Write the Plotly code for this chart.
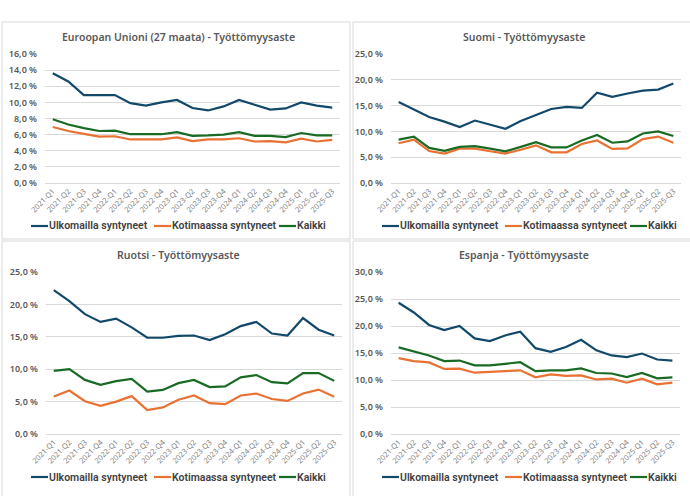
import plotly.graph_objects as go

W, H = 690, 496

quarters = ["2021-Q1", "2021-Q2", "2021-Q3", "2021-Q4", "2022-Q1", "2022-Q2", "2022-Q3", "2022-Q4",
            "2023-Q1", "2023-Q2", "2023-Q3", "2023-Q4", "2024-Q1", "2024-Q2", "2024-Q3", "2024-Q4",
            "2025-Q1", "2025-Q2", "2025-Q3"]
series_names = ["Ulkomailla syntyneet", "Kotimaassa syntyneet", "Kaikki"]
titles = ["Euroopan Unioni (27 maata) - Työttömyysaste", "Suomi - Työttömyysaste",
          "Ruotsi - Työttömyysaste", "Espanja - Työttömyysaste"]

eu_ulko = [13.6, 12.6, 10.9, 10.9, 10.9, 9.9, 9.6, 10.0, 10.3, 9.3, 9.0, 9.5, 10.3, 9.7, 9.1, 9.25, 10.0, 9.6, 9.35]
eu_koti = [6.95, 6.45, 6.1, 5.75, 5.8, 5.4, 5.4, 5.4, 5.65, 5.2, 5.4, 5.4, 5.55, 5.15, 5.2, 5.05, 5.5, 5.15, 5.35]
eu_kaikki = [7.9, 7.25, 6.8, 6.45, 6.5, 6.05, 6.05, 6.05, 6.3, 5.85, 5.9, 6.0, 6.3, 5.85, 5.85, 5.7, 6.2, 5.9, 5.9]

fi_ulko = [15.7, 14.3, 12.8, 11.9, 10.85, 12.1, 11.3, 10.5, 12.0, 13.25, 14.35, 14.75, 14.55, 17.5, 16.7, 17.35, 17.9, 18.1, 19.3]
fi_koti = [7.7, 8.4, 6.2, 5.7, 6.65, 6.65, 6.15, 5.7, 6.45, 7.3, 5.95, 5.95, 7.55, 8.25, 6.6, 6.7, 8.5, 9.0, 7.8]
fi_kaikki = [8.4, 9.0, 6.8, 6.25, 7.0, 7.15, 6.65, 6.15, 7.0, 7.9, 6.9, 6.9, 8.25, 9.3, 7.8, 8.05, 9.6, 10.0, 9.1]

se_ulko = [22.2, 20.5, 18.5, 17.3, 17.8, 16.45, 14.85, 14.85, 15.15, 15.2, 14.5, 15.4, 16.65, 17.3, 15.5, 15.2, 17.9, 16.1, 15.2]
se_koti = [5.8, 6.7, 5.05, 4.35, 5.0, 5.85, 3.7, 4.1, 5.3, 5.95, 4.75, 4.6, 5.95, 6.25, 5.4, 5.1, 6.25, 6.85, 5.75]
se_kaikki = [9.75, 10.0, 8.35, 7.6, 8.15, 8.5, 6.55, 6.8, 7.85, 8.35, 7.25, 7.35, 8.75, 9.1, 8.0, 7.8, 9.4, 9.4, 8.2]

es_ulko = [24.3, 22.5, 20.2, 19.25, 20.0, 17.7, 17.2, 18.25, 18.95, 15.9, 15.2, 16.1, 17.45, 15.5, 14.55, 14.25, 14.9, 13.8, 13.6]
es_koti = [14.05, 13.5, 13.25, 12.05, 12.1, 11.35, 11.5, 11.6, 11.8, 10.5, 11.05, 10.75, 10.85, 10.1, 10.25, 9.5, 10.25, 9.2, 9.5]
es_kaikki = [16.05, 15.3, 14.55, 13.5, 13.6, 12.7, 12.7, 13.0, 13.3, 11.65, 11.8, 11.8, 12.15, 11.3, 11.2, 10.55, 11.3, 10.3, 10.5]

y_max = [16, 25, 25, 30]
y_step = [2, 5, 5, 5]

colors = ["#12496A", "#E97132", "#196B24"]
panel_data = [
    [eu_ulko, eu_koti, eu_kaikki],
    [fi_ulko, fi_koti, fi_kaikki],
    [se_ulko, se_koti, se_kaikki],
    [es_ulko, es_koti, es_kaikki],
]

# layout geometry in pixels: (plot left, plot right, plot top, plot bottom)
plot_px = [(45, 340, 54, 183), (391, 681, 54, 183), (46, 342, 272, 434), (391, 680, 272, 434)]
panel_px = [(2, 350, 22, 239), (353, 692, 22, 239), (2, 350, 241, 500), (353, 692, 241, 500)]
title_y_px = [37, 37, 255, 255]
legend_y_px = [226, 226, 477, 477]


def fx(p):
    return p / W


def fy(p):
    return 1 - p / H


fig = go.Figure()
layout = dict(
    width=W, height=H, margin=dict(l=0, r=0, t=0, b=0, autoexpand=False),
    paper_bgcolor="white", plot_bgcolor="white",
    separators=", ", showlegend=False,
    font=dict(family="Noto Sans", color="#595959"),
)
shapes = []
annotations = []

for i in range(4):
    n = "" if i == 0 else str(i + 1)
    xl, xr, yt, yb = plot_px[i]
    for s in range(3):
        fig.add_trace(go.Scatter(
            x=quarters, y=panel_data[i][s], mode="lines", name=series_names[s],
            line=dict(color=colors[s], width=2.2),
            xaxis="x" + n, yaxis="y" + n,
        ))
    layout["xaxis" + n] = dict(
        domain=[fx(xl), fx(xr)], anchor="y" + n, type="category",
        range=[-0.5, len(quarters) - 0.5], showgrid=False,
        showline=True, linecolor="#D9D9D9", linewidth=1,
        tickangle=-45, tickfont=dict(size=7.5, color="#7F7F7F"), ticks="",
        automargin=False, fixedrange=True,
    )
    layout["yaxis" + n] = dict(
        domain=[fy(yb), fy(yt)], anchor="x" + n, range=[0, y_max[i]],
        dtick=y_step[i], tick0=0, tickformat=".1f", ticksuffix=" %",
        showgrid=True, gridcolor="#D9D9D9", gridwidth=1, zeroline=False,
        showline=False, tickfont=dict(size=9, color="#595959", weight=600),
        ticklabelstandoff=7, automargin=False, fixedrange=True,
    )
    # panel border
    pl, pr, pt, pb = panel_px[i]
    shapes.append(dict(type="rect", xref="paper", yref="paper",
                       x0=fx(pl), x1=fx(pr), y0=fy(pb), y1=fy(pt),
                       line=dict(color="#D9D9D9", width=1), layer="below"))
    # title
    annotations.append(dict(
        text=titles[i], xref="paper", yref="paper",
        x=fx((pl + min(pr, W)) / 2 + 2), y=fy(title_y_px[i]),
        xanchor="center", yanchor="middle", showarrow=False,
        font=dict(size=10.5, color="#595959", weight=600),
    ))
    # legend (swatch + text)
    offsets = [29, 152, 277]
    for s in range(3):
        x0 = pl + offsets[s]
        shapes.append(dict(type="line", xref="paper", yref="paper",
                           x0=fx(x0), x1=fx(x0 + 17), y0=fy(legend_y_px[i]), y1=fy(legend_y_px[i]),
                           line=dict(color=colors[s], width=2.2)))
        annotations.append(dict(
            text=series_names[s], xref="paper", yref="paper",
            x=fx(x0 + 16), y=fy(legend_y_px[i]), xanchor="left", yanchor="middle",
            showarrow=False, font=dict(family="Roboto", size=10.5, color="#404040", weight=600),
        ))

layout["shapes"] = shapes
layout["annotations"] = annotations
fig.update_layout(**layout)
fig.write_html("out.html")
